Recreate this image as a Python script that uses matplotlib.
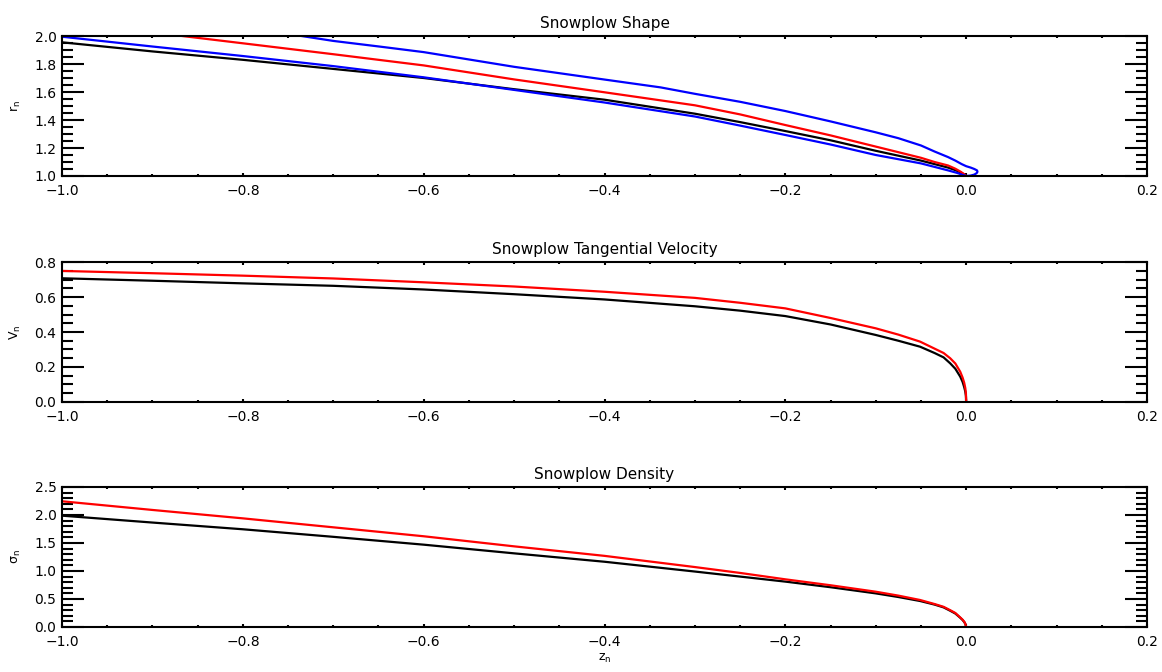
import matplotlib
matplotlib.use("Agg")
import matplotlib.pyplot as plt
from matplotlib.ticker import MultipleLocator

# ---------------------
# Snowplow shape (r_n vs z_n)
# ---------------------
z_shape_black = [-1.0, -0.9, -0.8, -0.7, -0.6, -0.5, -0.4, -0.3, -0.25, -0.2,
                 -0.15, -0.1, -0.075, -0.05, -0.035, -0.02, -0.012, -0.006, -0.002, 0.0]
r_shape_black = [1.955, 1.89, 1.83, 1.765, 1.70, 1.62, 1.545, 1.445, 1.385, 1.321,
                 1.255, 1.18, 1.145, 1.11, 1.085, 1.06, 1.042, 1.025, 1.01, 1.0]

z_shape_red = [-0.867, -0.8, -0.7, -0.6, -0.5, -0.4, -0.3, -0.25, -0.2, -0.15,
               -0.1, -0.075, -0.05, -0.035, -0.02, -0.012, -0.006, -0.002, 0.0]
r_shape_red = [2.0, 1.948, 1.87, 1.79, 1.69, 1.598, 1.505, 1.44, 1.364, 1.29,
               1.21, 1.17, 1.13, 1.10, 1.075, 1.052, 1.03, 1.012, 1.0]

# blue curve: inner branch down to the tip, round the loop, then outer branch up
z_shape_blue = [-1.0, -0.9, -0.8, -0.7, -0.6, -0.5, -0.4, -0.3, -0.25, -0.2,
                -0.15, -0.1, -0.075, -0.05, -0.035, -0.02, -0.01, -0.004, 0.0,
                0.005, 0.009, 0.0115, 0.0125, 0.012, 0.009, 0.005, 0.0,
                -0.005, -0.012, -0.02, -0.035, -0.05, -0.075, -0.1, -0.15, -0.2,
                -0.25, -0.3, -0.338, -0.4, -0.5, -0.6, -0.648, -0.7, -0.735]
r_shape_blue = [1.995, 1.925, 1.857, 1.785, 1.705, 1.615, 1.525, 1.425, 1.36, 1.293,
                1.225, 1.15, 1.12, 1.09, 1.065, 1.04, 1.022, 1.008, 1.0,
                1.003, 1.01, 1.02, 1.03, 1.04, 1.05, 1.06, 1.07,
                1.085, 1.11, 1.135, 1.175, 1.218, 1.27, 1.312, 1.39, 1.464,
                1.53, 1.587, 1.633, 1.689, 1.78, 1.885, 1.924, 1.965, 2.0]

# ---------------------
# Tangential velocity (V_n vs z_n)
# ---------------------
z_vel = [-1.0, -0.9, -0.8, -0.7, -0.6, -0.5, -0.4, -0.3, -0.25, -0.2, -0.15,
         -0.1, -0.075, -0.051, -0.035, -0.025, -0.0177, -0.012, -0.0066,
         -0.004, -0.0022, -0.001, -0.0003, 0.0]
v_black = [0.707, 0.693, 0.678, 0.664, 0.643, 0.616, 0.586, 0.547, 0.522, 0.491, 0.443,
           0.383, 0.35, 0.316, 0.28, 0.255, 0.221, 0.19, 0.145,
           0.115, 0.085, 0.06, 0.035, 0.0]
v_red = [0.749, 0.736, 0.722, 0.706, 0.684, 0.66, 0.63, 0.595, 0.567, 0.535, 0.48,
         0.421, 0.385, 0.345, 0.305, 0.28, 0.25, 0.22, 0.173,
         0.14, 0.11, 0.08, 0.05, 0.0]

# ---------------------
# Density (sigma_n vs z_n)
# ---------------------
z_den = [-1.0, -0.9, -0.8, -0.7, -0.6, -0.5, -0.4, -0.3, -0.25, -0.2, -0.15,
         -0.1, -0.075, -0.051, -0.035, -0.025, -0.0177, -0.012, -0.0066,
         -0.004, -0.002, -0.0008, 0.0]
s_black = [1.988, 1.865, 1.745, 1.61, 1.47, 1.315, 1.165, 0.99, 0.90, 0.81, 0.71,
           0.60, 0.535, 0.464, 0.40, 0.35, 0.29, 0.24, 0.165,
           0.125, 0.085, 0.05, 0.0]
s_red = [2.245, 2.09, 1.94, 1.78, 1.62, 1.44, 1.27, 1.07, 0.965, 0.851, 0.745,
         0.63, 0.56, 0.482, 0.41, 0.36, 0.30, 0.25, 0.17,
         0.13, 0.09, 0.05, 0.0]

plt.rcParams['font.family'] = ['DejaVu Sans']
plt.rcParams['font.size'] = 10

fig = plt.figure(figsize=(11.62, 6.72), dpi=100)
left, width, height = 0.0534, 0.9337, 0.2083
bottoms = [0.7381, 0.4018, 0.0670]
axes = [fig.add_axes([left, b, width, height]) for b in bottoms]

lw = 1.6
ax1, ax2, ax3 = axes
ax1.plot(z_shape_black, r_shape_black, color='black', lw=lw)
ax1.plot(z_shape_red, r_shape_red, color='red', lw=lw)
ax1.plot(z_shape_blue, r_shape_blue, color='blue', lw=lw)
ax1.set_ylim(1.0, 2.0)
ax1.yaxis.set_major_locator(MultipleLocator(0.2))
ax1.yaxis.set_minor_locator(MultipleLocator(0.05))
ax1.set_title("Snowplow Shape", fontsize=11, pad=6)
ax1.set_ylabel(r"$\mathregular{r_n}$", fontsize=9)

ax2.plot(z_vel, v_black, color='black', lw=lw)
ax2.plot(z_vel, v_red, color='red', lw=lw)
ax2.set_ylim(0.0, 0.8)
ax2.yaxis.set_major_locator(MultipleLocator(0.2))
ax2.yaxis.set_minor_locator(MultipleLocator(0.05))
ax2.set_title("Snowplow Tangential Velocity", fontsize=11, pad=6)
ax2.set_ylabel(r"$\mathregular{V_n}$", fontsize=9)

ax3.plot(z_den, s_black, color='black', lw=lw)
ax3.plot(z_den, s_red, color='red', lw=lw)
ax3.set_ylim(0.0, 2.5)
ax3.yaxis.set_major_locator(MultipleLocator(0.5))
ax3.yaxis.set_minor_locator(MultipleLocator(0.1))
ax3.set_title("Snowplow Density", fontsize=11, pad=6)
ax3.set_ylabel(r"$\mathregular{\sigma_n}$", fontsize=9)
ax3.set_xlabel(r"$\mathregular{z_n}$", fontsize=9, labelpad=2)

for ax in axes:
    ax.set_xlim(-1.0, 0.2)
    ax.xaxis.set_major_locator(MultipleLocator(0.2))
    ax.xaxis.set_minor_locator(MultipleLocator(0.05))
    ax.xaxis.set_major_formatter(plt.FuncFormatter(lambda v, p: f"{v:.1f}".replace("-", "\u2212")))
    ax.yaxis.set_major_formatter(plt.FuncFormatter(lambda v, p: f"{v:.1f}"))
    for s in ax.spines.values():
        s.set_linewidth(1.5)
    ax.tick_params(axis='both', which='both', direction='in', top=True, right=True,
                   width=1.5, labelsize=10)
    ax.tick_params(axis='y', which='major', length=15.6, pad=4)
    ax.tick_params(axis='y', which='minor', length=7.8)
    ax.tick_params(axis='x', which='major', length=2.2, pad=6)
    ax.tick_params(axis='x', which='minor', length=1.1)
    ax.yaxis.set_label_coords(-0.036, 0.5)

fig.savefig("out.png", dpi=100)
